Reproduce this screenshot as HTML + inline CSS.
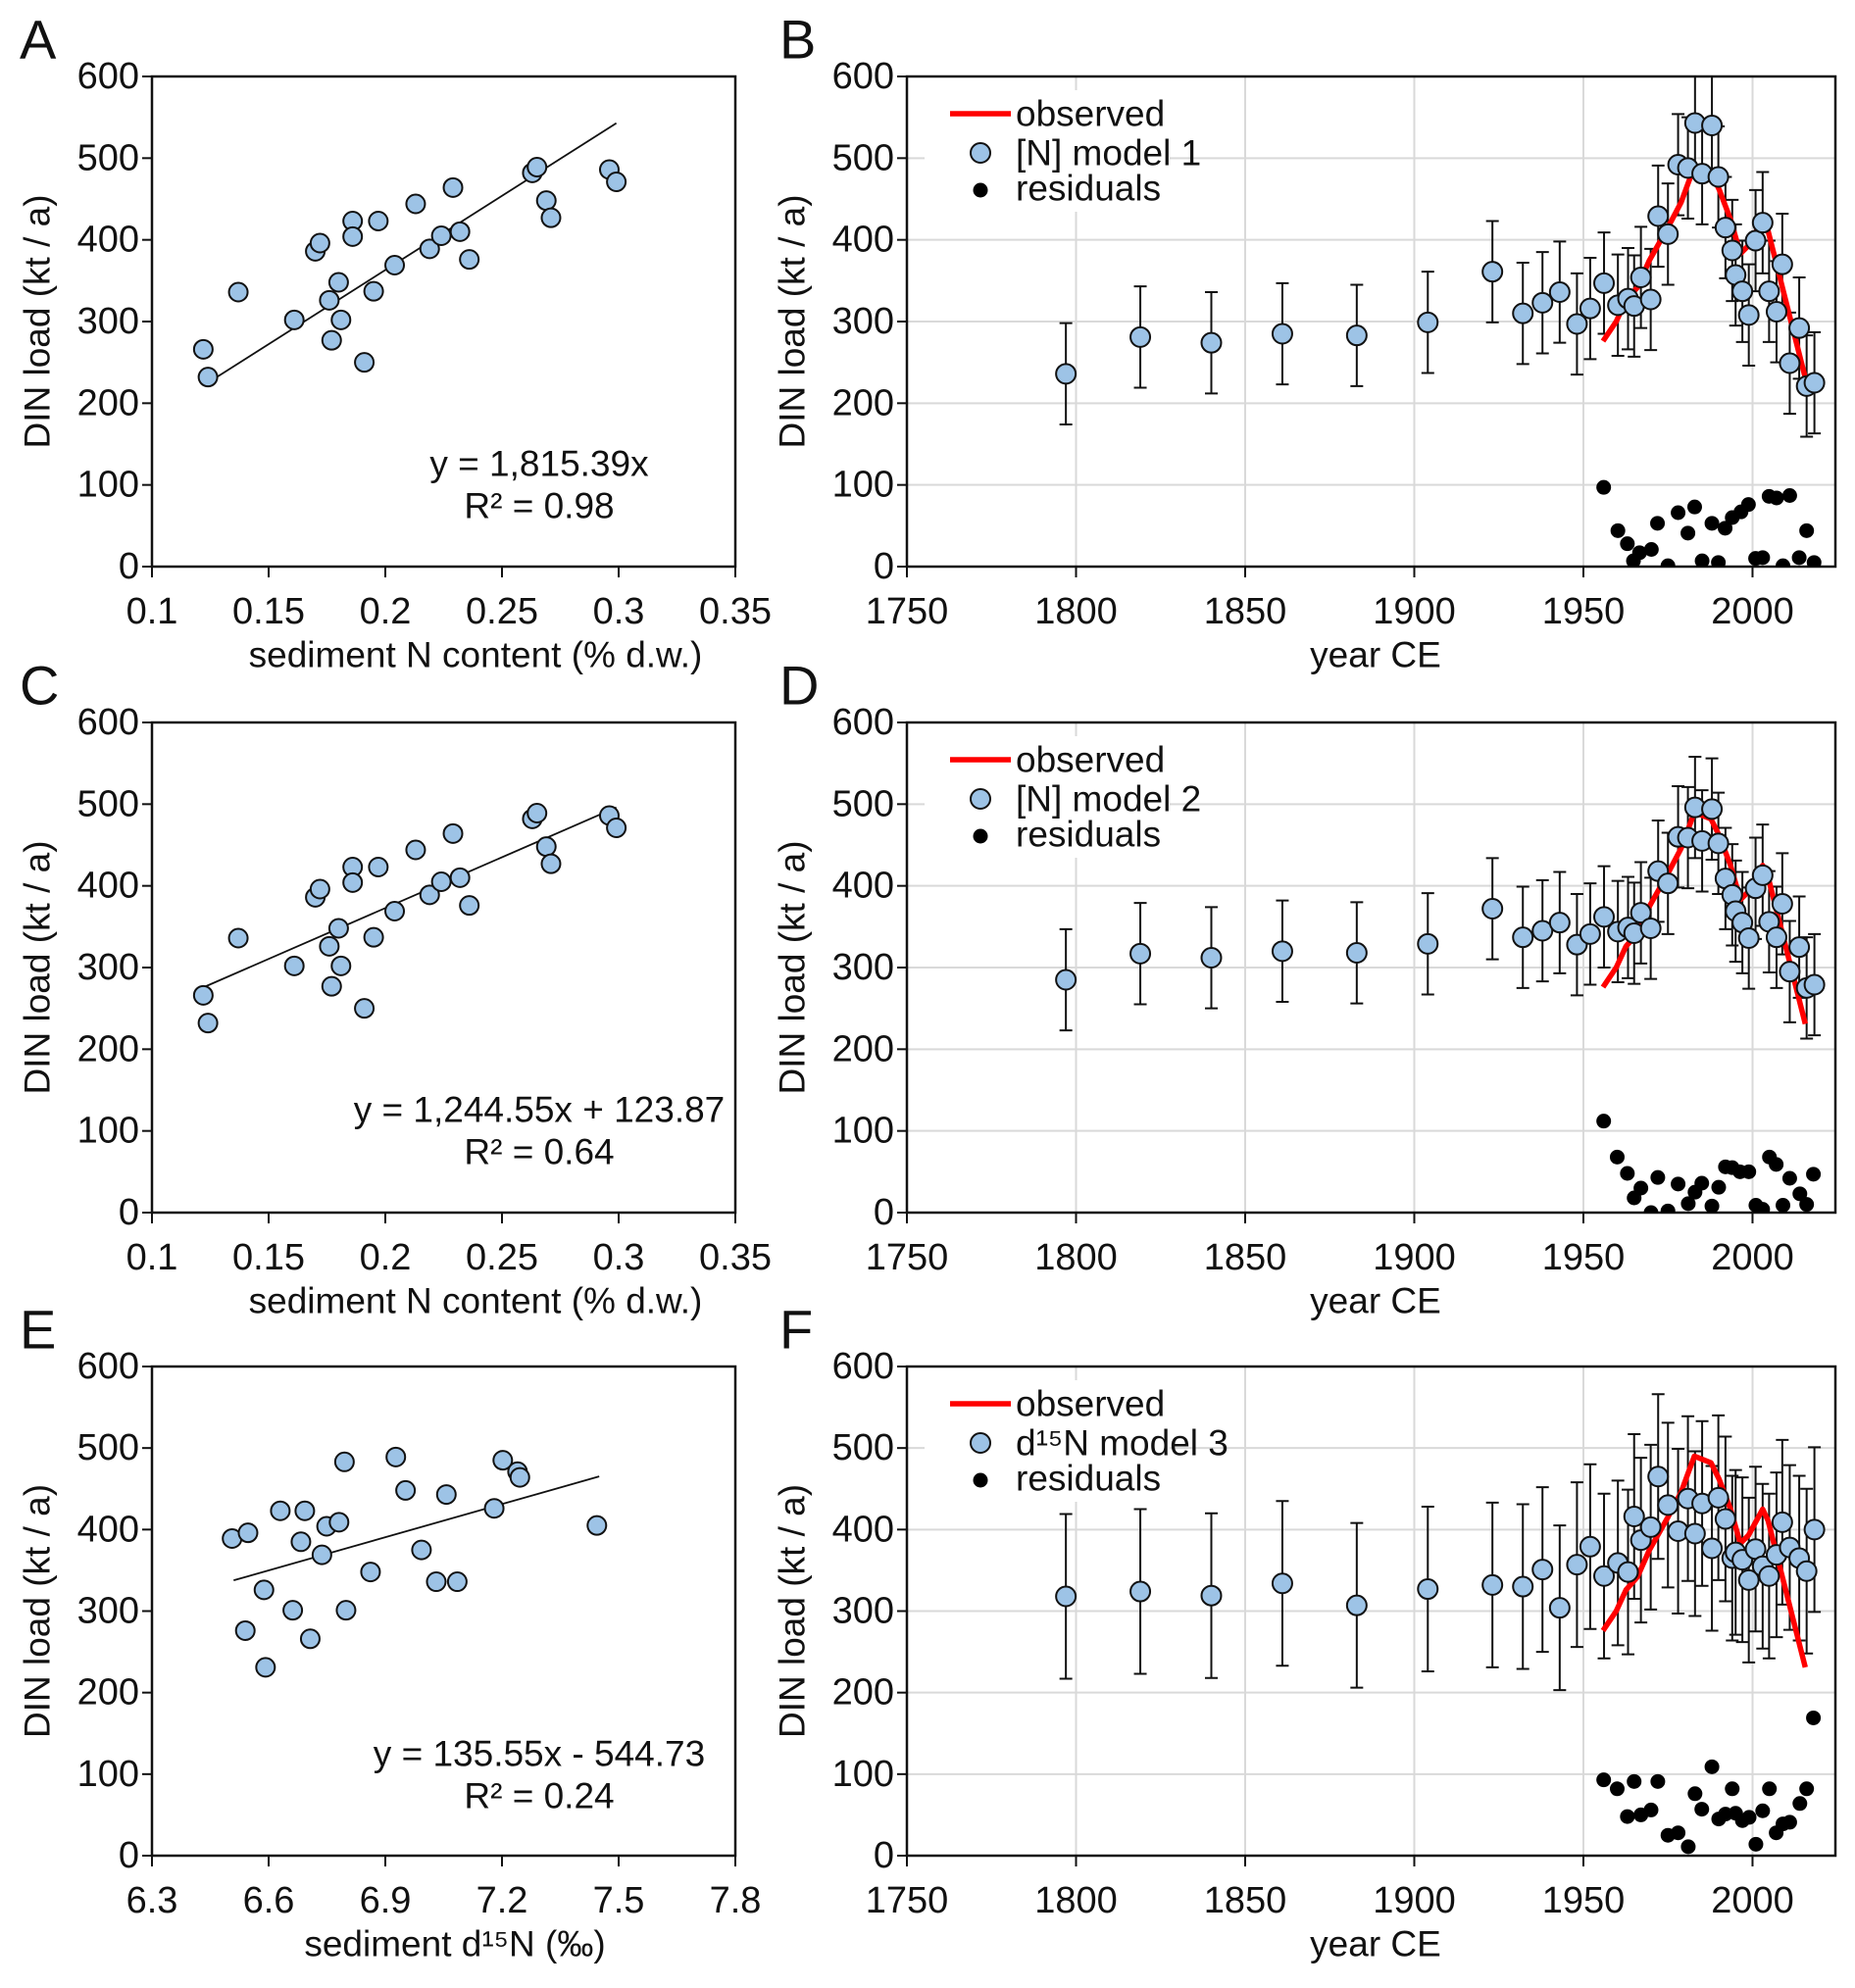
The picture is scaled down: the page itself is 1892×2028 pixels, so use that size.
<!DOCTYPE html>
<html><head><meta charset="utf-8">
<style>
html,body{margin:0;padding:0;background:#fff;}
svg{display:block;font-family:"Liberation Sans",Arial,sans-serif;}
</style></head>
<body>
<svg id="fig" width="1892" height="2028" viewBox="0 0 1892 2028" xmlns="http://www.w3.org/2000/svg"></svg>
<script>
// ---------- data ----------
const scatterN = [0.122,0.124,0.137,0.161,0.170,0.172,0.176,0.177,0.180,0.181,0.186,0.186,0.191,0.195,0.197,0.204,0.213,0.219,0.224,0.229,0.232,0.236,0.263,0.265,0.269,0.271,0.296,0.299];
const scatterLoadN = [266,232,336,302,386,396,326,277,348,302,423,404,250,337,423,369,444,389,405,464,410,376,482,489,448,427,486,471];
const scatterD15N = [6.506,6.547,6.630,6.693,6.683,6.749,6.781,6.795,6.737,6.588,6.540,6.592,6.662,6.707,6.799,6.862,6.927,6.952,6.993,7.031,7.085,7.057,7.180,7.202,7.240,7.246,7.444];
const scatterLoadD = [389,396,423,423,385,404,409,483,369,326,276,231,301,266,301,348,489,448,375,336,336,443,426,485,471,464,405];
const xTicksN = [0.1,0.15,0.2,0.25,0.3,0.35];
const xTickLabelsN = ["0.1","0.15","0.2","0.25","0.3","0.35"];
const xTicksD = [6.3,6.6,6.9,7.2,7.5,7.8];
const xTickLabelsD = ["6.3","6.6","6.9","7.2","7.5","7.8"];
const yTicks = [0,100,200,300,400,500,600];
const yearTicks = [1750,1800,1850,1900,1950,2000];

const modelYears = [1797,1819,1840,1861,1883,1904,1923.1,1932.1,1937.9,1943.0,1948.1,1952.0,1956.1,1960.2,1963.2,1965.0,1967.0,1969.9,1972.1,1975.0,1978.0,1980.9,1983.0,1985.1,1988.0,1989.9,1992.0,1994.0,1995.0,1997.0,1998.9,2000.9,2003.0,2004.9,2007.1,2008.8,2011.0,2013.8,2016.0,2018.3];
const model1 = [236,281,274,285,283,299,361,310,323,336,297,316,347,320,328,319,354,327,429,407,492,488,543,481,540,477,415,387,357,337,308,399,421,337,312,370,249,292,221,225];
const model2 = [285,317,312,320,318,329,372,337,345,355,328,341,362,344,349,342,367,348,418,403,460,459,496,455,494,452,409,389,369,355,336,397,413,356,337,378,295,325,275,279];
const model3 = [318,324,319,334,307,327,332,330,351,304,357,379,343,359,348,416,387,403,465,430,398,438,395,432,377,439,413,365,372,363,338,376,355,343,369,409,378,365,349,400];
const err1 = 62, err2 = 62, err3 = 101;

const obsYears = [1955.8,1959.7,1962.6,1966.0,1969.4,1975.1,1978.9,1982.8,1987.7,1990.1,1993.5,1996.4,1998.8,2003.0,2004.6,2015.6];
const obsValues = [276,300,326,342,374,416,446,490,482,462,425,383,393,425,411,231];

const res1Years = [1956.0,1960.2,1963.0,1964.8,1966.6,1970.1,1971.9,1975.0,1978.0,1980.9,1982.9,1985.1,1988.0,1989.9,1991.9,1994.0,1996.6,1998.8,2000.9,2003.0,2004.9,2007.1,2009.0,2011.0,2013.8,2016.0,2018.2];
const res1 = [97,44,28,7,17,21,53,1,66,41,73,7,53,5,47,60,67,76,10,11,86,84,1,87,11,44,5];
const res2Years = [1956,1960,1963,1965,1967,1970,1972,1975,1978,1981,1983,1985,1988,1990,1992,1994,1996.3,1998.9,2001,2003,2005,2007,2009,2011,2014,2016,2018];
const res2 = [112,68,48,18,30,0,43,2,35,11,25,36,8,31,56,55,50,50,9,4,68,59,9,42,23,10,47];
const res3Years = [1956,1960,1963,1965,1967,1970,1972,1975,1978,1981,1983,1985,1988,1990,1992,1994,1995,1997,1999,2001,2003,2005,2007,2009,2011,2014,2016,2018];
const res3 = [93,82,48,91,50,56,91,25,28,11,76,57,109,45,51,82,52,43,47,14,55,82,28,39,41,64,82,169];

// ---------- helpers ----------
const NS = "http://www.w3.org/2000/svg";
const fig = document.getElementById('fig');
function mk(tag, attrs, parent){
  const e = document.createElementNS(NS, tag);
  for (const k in attrs) e.setAttribute(k, attrs[k]);
  (parent||fig).appendChild(e);
  return e;
}
function txt(s, x, y, size, anchor, parent){
  const t = mk('text', {x:x, y:y, 'font-size':size, 'text-anchor':anchor||'middle', 'dominant-baseline':'central', fill:'#111'}, parent);
  t.textContent = s;
  return t;
}

function makeAxes(name, L, R, T, B, x0, x1, grid, xt, xtl, xTitle, letter, titleX){
  const g = mk('g', {});
  
  
  const sx = v => L + (v - x0) / (x1 - x0) * (R - L);
  const sy = v => B - v / 600 * (B - T);
  if (grid){
    const gg = mk('g', {}, g);
    
    
    yTicks.forEach(v => { if (v>0 && v<600) mk('line', {x1:L, x2:R, y1:sy(v), y2:sy(v), stroke:'#d9d9d9', 'stroke-width':2}, gg); });
    xt.forEach(v => { if (v> x0 && v < x1) mk('line', {x1:sx(v), x2:sx(v), y1:T, y2:B, stroke:'#d9d9d9', 'stroke-width':2}, gg); });
  }
  const fr = mk('rect', {x:L, y:T, width:R-L, height:B-T, fill:'none', stroke:'#111', 'stroke-width':2.5}, g);
  
  
  const ya = mk('g', {}, g);
  
  
  yTicks.forEach(v => {
    mk('line', {x1:L-10, x2:L, y1:sy(v), y2:sy(v), stroke:'#111', 'stroke-width':2}, ya);
    const t = txt(String(v), L-13, sy(v), 38, 'end', ya);
    
    
  });
  const xa = mk('g', {}, g);
  
  
  xt.forEach((v,i) => {
    mk('line', {x1:sx(v), x2:sx(v), y1:B, y2:B+11, stroke:'#111', 'stroke-width':2}, xa);
    const t = txt(xtl[i], sx(v), B+46, 38, 'middle', xa);
    
    
  });
  const yt = txt('DIN load (kt / a)', 0, 0, 37, 'middle', g);
  yt.setAttribute('transform', `translate(${L-117},${(T+B)/2}) rotate(-90)`);
  
  
  const xtit = txt(xTitle, titleX, B+90, 37, 'middle', g);
  
  
  const lt = txt(letter, L - (grid ? 130 : 135), T - 38, 56, 'start', g);
  
  
  return {g, sx, sy};
}

function scatterPanel(name, L, R, T, B, x0, x1, xt, xtl, xs, ys, slope, icpt, lx0, lx1, eq, r2, xTitle, letter, titleX){
  const a = makeAxes(name, L, R, T, B, x0, x1, false, xt, xtl, xTitle, letter, titleX);
  const line = mk('line', {x1:a.sx(lx0), y1:a.sy(slope*lx0+icpt), x2:a.sx(lx1), y2:a.sy(slope*lx1+icpt), stroke:'#111', 'stroke-width':1.8}, a.g);
  
  
  xs.forEach((v,i) => {
    const c = mk('circle', {cx:a.sx(v), cy:a.sy(ys[i]), r:9.5, fill:'#9dc3e6', stroke:'#111', 'stroke-width':2}, a.g);
    
    
  });
  const e1 = txt(eq, L+395, T+395, 37, 'middle', a.g);
  
  
  const e2 = txt(r2, L+395, T+438, 37, 'middle', a.g);
  
  
}

function timePanel(name, T, B, model, err, res, resYears, label, letter, clipId){
  const L = 925, R = 1872;
  const a = makeAxes(name, L, R, T, B, 1750, 2024.5, true, yearTicks, yearTicks.map(String), 'year CE', letter, 1403);
  const cp = mk('clipPath', {id:clipId}, a.g);
  mk('rect', {x:L, y:T, width:R-L, height:B-T}, cp);
  const data = mk('g', {'clip-path':`url(#${clipId})`}, a.g);
  const lg = mk('g', {}, a.g);
  
  
  mk('rect', {x:L+18, y:T+14, width:250, height:124, fill:'#fff'}, lg);
  resYears.forEach((y,i) => {
    const c = mk('circle', {cx:a.sx(y), cy:a.sy(res[i]), r:7.5, fill:'#000'}, data);
    
    
  });
  modelYears.forEach((y,i) => {
    const x = a.sx(y), hi = a.sy(model[i]+err), lo = a.sy(model[i]-err);
    const eb = mk('path', {d:`M${x},${hi}V${lo}M${x-6.5},${hi}H${x+6.5}M${x-6.5},${lo}H${x+6.5}`, stroke:'#111', 'stroke-width':2, fill:'none'}, data);
    
    
  });
  const pts = obsYears.map((y,i) => `${a.sx(y)},${a.sy(obsValues[i])}`).join(' ');
  const pl = mk('polyline', {points:pts, fill:'none', stroke:'#ff0000', 'stroke-width':5.5, 'stroke-linejoin':'round'}, data);
  
  
  modelYears.forEach((y,i) => {
    const c = mk('circle', {cx:a.sx(y), cy:a.sy(model[i]), r:10, fill:'#9dc3e6', stroke:'#111', 'stroke-width':2}, data);
    
    
  });
  mk('line', {x1:L+44, x2:L+106, y1:T+38, y2:T+38, stroke:'#ff0000', 'stroke-width':5.5}, lg);
  const t1 = txt('observed', L+111, T+38, 37, 'start', lg);
  
  
  mk('circle', {cx:L+75, cy:T+78, r:10, fill:'#9dc3e6', stroke:'#111', 'stroke-width':2}, lg);
  const t2 = txt(label, L+111, T+78, 37, 'start', lg);
  
  
  mk('circle', {cx:L+75, cy:T+116, r:7.5, fill:'#000'}, lg);
  const t3 = txt('residuals', L+111, T+114, 37, 'start', lg);
  
  
}

scatterPanel('panel-a', 155, 750, 78, 578, 0.1, 0.35, xTicksN, xTickLabelsN, scatterN, scatterLoadN, 1815.39, 0, 0.124, 0.299, 'y = 1,815.39x', 'R² = 0.98', 'sediment N content (% d.w.)', 'A', 485);
scatterPanel('panel-c', 155, 750, 737, 1237, 0.1, 0.35, xTicksN, xTickLabelsN, scatterN, scatterLoadN, 1244.55, 123.87, 0.122, 0.299, 'y = 1,244.55x + 123.87', 'R² = 0.64', 'sediment N content (% d.w.)', 'C', 485);
scatterPanel('panel-e', 155, 750, 1394, 1893, 6.3, 7.8, xTicksD, xTickLabelsD, scatterD15N, scatterLoadD, 135.55, -544.73, 6.51, 7.45, 'y = 135.55x - 544.73', 'R² = 0.24', 'sediment d¹⁵N (‰)', 'E', 464);
timePanel('panel-b', 78, 578, model1, err1, res1, res1Years, '[N] model 1', 'B', 'clipB');
timePanel('panel-d', 737, 1237, model2, err2, res2, res2Years, '[N] model 2', 'D', 'clipD');
timePanel('panel-f', 1394, 1893, model3, err3, res3, res3Years, 'd¹⁵N model 3', 'F', 'clipF');
</script>
</body></html>
